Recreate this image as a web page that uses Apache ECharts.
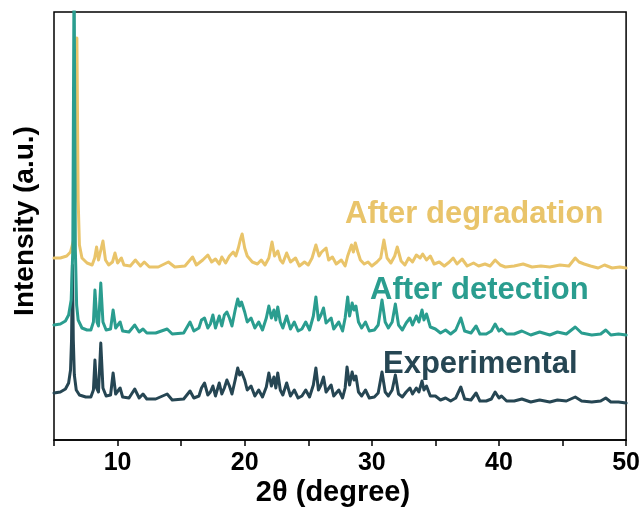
<!DOCTYPE html>
<html>
<head>
<meta charset="utf-8">
<script src="https://cdn.jsdelivr.net/npm/echarts@6/dist/echarts.min.js"></script>
<style>html,body{margin:0;padding:0;background:#fff}#c{width:643px;height:510px}</style>
</head>
<body>
<div id="c"></div>
<script>
// 2θ (degree), intensity (a.u., offset traces)
const experimental = [[5.0,47],[5.5,48],[5.9,51],[6.15,57],[6.3,70],[6.38,100],[6.45,175],[6.52,100],[6.6,65],[6.75,50],[7.0,45],[7.5,43],[7.9,43],[8.1,50],[8.22,80],[8.35,52],[8.5,48],[8.68,97],[8.85,52],[9.1,44],[9.45,45],[9.65,67],[9.85,46],[10.0,44],[10.2,52],[10.4,43],[10.9,42],[11.35,51],[11.7,42],[12.0,46],[12.3,41],[13.0,41],[13.9,46],[14.3,40],[15.2,41],[15.7,49],[16.0,42],[16.4,44],[16.6,52],[16.84,57],[17.1,45],[17.3,48],[17.5,54],[17.7,44],[18.0,57],[18.2,46],[18.4,52],[18.6,60],[18.8,54],[19.0,46],[19.25,60],[19.45,72],[19.6,65],[19.75,68],[20.0,60],[20.2,50],[20.5,54],[20.8,44],[21.1,50],[21.4,43],[21.7,53],[21.9,67],[22.1,54],[22.3,63],[22.45,52],[22.6,67],[22.8,50],[23.0,45],[23.3,57],[23.6,44],[23.9,50],[24.2,42],[24.5,44],[24.8,50],[25.1,43],[25.4,55],[25.6,72],[25.8,50],[26.0,55],[26.2,63],[26.4,48],[26.8,55],[27.0,44],[27.4,50],[27.7,42],[27.9,52],[28.05,73],[28.25,55],[28.45,68],[28.6,60],[28.75,64],[28.95,48],[29.2,44],[29.5,50],[29.8,42],[30.2,43],[30.5,47],[30.8,68],[31.05,48],[31.3,44],[31.6,50],[31.85,65],[32.1,46],[32.4,43],[32.7,48],[33.0,52],[33.2,46],[33.5,52],[33.7,48],[33.95,59],[34.1,50],[34.3,54],[34.6,44],[35.0,44],[35.4,40],[35.8,42],[36.2,39],[36.6,42],[37.0,53],[37.3,41],[37.8,40],[38.2,47],[38.5,39],[39.0,39],[39.4,41],[39.7,48],[40.0,42],[40.2,44],[40.6,39],[41.2,39],[41.8,41],[42.5,38],[43.2,40],[44.0,38],[44.6,40],[45.3,39],[46.0,43],[46.5,39],[47.3,38],[48.0,39],[48.4,42],[48.8,38],[49.4,38],[50.0,37]];

const afterDetection = [[5.0,115],[5.5,116],[5.9,119],[6.15,125],[6.35,140],[6.48,190],[6.58,480],[6.68,190],[6.78,135],[6.9,120],[7.2,112],[7.6,110],[7.9,110],[8.1,118],[8.22,150],[8.38,118],[8.5,114],[8.68,157],[8.85,118],[9.1,110],[9.45,111],[9.65,130],[9.85,112],[10.0,110],[10.2,118],[10.4,109],[10.9,108],[11.35,115],[11.7,108],[12.0,111],[12.3,107],[13.0,107],[13.9,111],[14.3,106],[15.2,107],[15.7,118],[16.0,109],[16.4,112],[16.6,120],[16.84,122],[17.1,112],[17.3,116],[17.5,125],[17.7,112],[18.0,124],[18.2,114],[18.4,125],[18.6,128],[18.8,122],[19.0,114],[19.25,130],[19.45,141],[19.6,134],[19.75,138],[20.0,128],[20.2,118],[20.5,122],[20.8,112],[21.1,118],[21.4,110],[21.7,122],[21.9,134],[22.1,122],[22.3,130],[22.45,120],[22.6,133],[22.8,118],[23.0,112],[23.3,124],[23.6,111],[23.9,118],[24.2,109],[24.5,111],[24.8,118],[25.1,110],[25.4,124],[25.6,143],[25.8,120],[26.0,125],[26.2,132],[26.4,117],[26.8,122],[27.0,111],[27.4,118],[27.7,109],[27.9,122],[28.1,143],[28.25,124],[28.45,137],[28.6,130],[28.75,134],[28.95,118],[29.2,112],[29.5,118],[29.8,109],[30.2,110],[30.5,115],[30.8,140],[31.05,118],[31.3,112],[31.6,118],[31.85,136],[32.1,115],[32.4,110],[32.7,117],[33.0,122],[33.2,115],[33.5,124],[33.7,118],[33.95,130],[34.1,120],[34.3,126],[34.6,113],[35.0,111],[35.4,107],[35.8,110],[36.2,106],[36.6,110],[37.0,122],[37.3,109],[37.8,107],[38.2,114],[38.5,106],[39.0,106],[39.4,109],[39.7,116],[40.0,109],[40.2,111],[40.6,106],[41.2,106],[41.8,109],[42.5,105],[43.2,108],[44.0,105],[44.6,108],[45.3,106],[46.0,113],[46.5,107],[47.3,105],[48.0,106],[48.4,110],[48.8,105],[49.4,106],[50.0,105]];

const afterDegradation = [[5.0,182],[5.5,182],[6.0,184],[6.3,188],[6.55,200],[6.7,260],[6.8,402],[6.9,240],[7.0,195],[7.2,182],[7.6,177],[8.0,175],[8.2,182],[8.35,193],[8.5,180],[8.65,182],[8.85,199],[9.05,180],[9.3,175],[9.6,178],[9.8,187],[10.0,177],[10.3,182],[10.5,175],[11.0,174],[11.4,180],[11.8,174],[12.1,178],[12.5,173],[13.2,173],[14.0,178],[14.5,173],[15.3,174],[15.9,183],[16.2,175],[16.7,180],[17.1,185],[17.4,178],[17.7,181],[18.0,176],[18.2,183],[18.5,177],[18.8,184],[19.1,188],[19.3,184],[19.5,192],[19.65,200],[19.8,206],[20.0,192],[20.2,184],[20.6,178],[21.0,176],[21.3,180],[21.6,175],[21.9,182],[22.15,198],[22.35,184],[22.6,189],[22.8,180],[23.0,177],[23.3,187],[23.6,178],[24.0,182],[24.3,174],[24.7,178],[25.0,175],[25.3,182],[25.6,195],[25.85,184],[26.05,188],[26.4,192],[26.6,180],[26.9,183],[27.2,176],[27.6,180],[27.9,174],[28.1,184],[28.4,195],[28.55,188],[28.7,197],[28.9,188],[29.1,180],[29.4,176],[29.7,178],[30.0,174],[30.4,178],[30.7,182],[30.95,200],[31.2,182],[31.5,177],[31.8,184],[32.0,193],[32.3,179],[32.6,175],[32.9,182],[33.2,178],[33.5,185],[33.8,182],[34.0,186],[34.3,180],[34.6,184],[34.9,176],[35.3,178],[35.7,174],[36.1,178],[36.4,182],[36.7,176],[37.1,181],[37.5,174],[38.0,177],[38.4,174],[38.9,176],[39.3,174],[39.7,180],[40.1,175],[40.5,173],[41.2,174],[41.9,176],[42.6,173],[43.3,174],[44.0,173],[44.8,175],[45.5,174],[46.0,182],[46.3,178],[46.7,176],[47.2,174],[47.8,172],[48.3,175],[48.9,172],[49.5,173],[50.0,172]];

const seriesNames = ['Experimental', 'After detection', 'After degradation'];
const seriesColors = ['#264653', '#2A9D8F', '#E9C46A'];
const xLabelValues = [10, 20, 30, 40, 50];

const FONT = '"Liberation Sans", Arial, Helvetica, sans-serif';
const chart = echarts.init(document.getElementById('c'), null, {renderer: 'canvas'});

function lineSeries(name, data, color, z) {
  return {
    name: name, type: 'line', data: data, showSymbol: false, symbol: 'none',
    smooth: false, clip: true, z: z,
    lineStyle: {color: color, width: 3, join: 'round', cap: 'round'}
  };
}

chart.setOption({
  animation: false,
  backgroundColor: '#fff',
  grid: {left: 54, right: 15, top: 12, bottom: 70, show: true, borderColor: '#000', borderWidth: 1.5, backgroundColor: 'transparent'},
  xAxis: {
    type: 'value', min: 5, max: 50, interval: 5,
    axisLine: {show: true, lineStyle: {color: '#000', width: 1.5}},
    axisTick: {show: true, length: 6, lineStyle: {color: '#000', width: 1.5}},
    splitLine: {show: false},
    axisLabel: {
      color: '#000', fontSize: 25, fontWeight: 'bold', fontFamily: FONT, margin: 11,
      formatter: function (v) { return xLabelValues.indexOf(v) >= 0 ? String(v) : ''; }
    }
  },
  yAxis: {
    type: 'value', min: 0, max: 428,
    axisLine: {show: false}, axisTick: {show: false}, axisLabel: {show: false}, splitLine: {show: false}
  },
  series: [
    lineSeries(seriesNames[2], afterDegradation, seriesColors[2], 2),
    lineSeries(seriesNames[0], experimental, seriesColors[0], 3),
    lineSeries(seriesNames[1], afterDetection, seriesColors[1], 4)
  ],
  graphic: [
    {type: 'text', x: 345, y: 214, style: {text: seriesNames[2], fill: seriesColors[2], font: 'bold 31px ' + FONT, verticalAlign: 'middle', align: 'left'}},
    {type: 'text', x: 370, y: 290, style: {text: seriesNames[1], fill: seriesColors[1], font: 'bold 31px ' + FONT, verticalAlign: 'middle', align: 'left'}},
    {type: 'text', x: 383, y: 364, style: {text: seriesNames[0], fill: seriesColors[0], font: 'bold 31px ' + FONT, verticalAlign: 'middle', align: 'left'}},
    {type: 'text', x: 25, y: 221, rotation: Math.PI / 2, style: {text: 'Intensity (a.u.)', fill: '#000', font: 'bold 28px ' + FONT, align: 'center', verticalAlign: 'middle'}},
    {type: 'text', x: 333, y: 493, style: {text: '2θ (degree)', fill: '#000', font: 'bold 29px ' + FONT, align: 'center', verticalAlign: 'middle'}}
  ]
});
</script>
</body>
</html>
